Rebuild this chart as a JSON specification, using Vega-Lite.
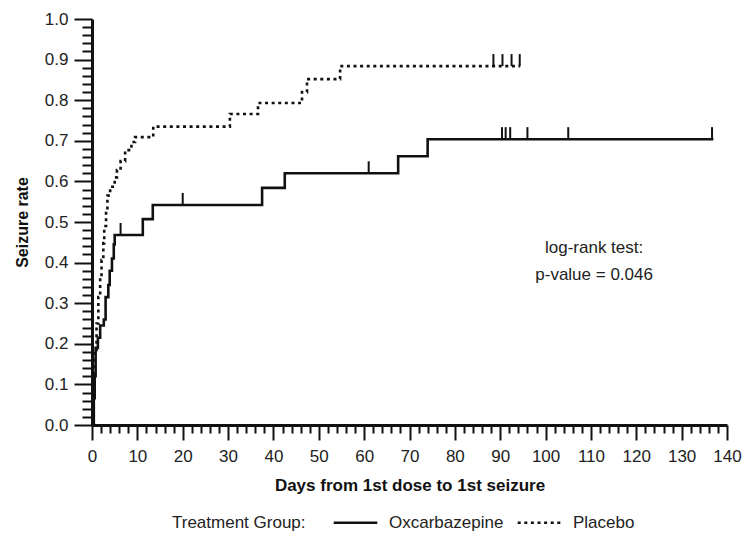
{
  "$schema": "https://vega.github.io/schema/vega-lite/v6.json",
  "width": 635,
  "height": 406,
  "autosize": {"type": "none"},
  "padding": {"left": 92, "top": 19, "right": 16, "bottom": 114},
  "background": "white",
  "config": {
    "view": {"stroke": null},
    "font": "Liberation Sans, sans-serif",
    "axis": {"grid": false, "domainColor": "#111", "domainWidth": 3, "tickColor": "#111", "tickWidth": 2, "labelColor": "#222", "titleColor": "#111"}
  },
  "datasets": {
    "curves": [
      {"group": "Oxcarbazepine", "day": 0, "rate": 0},
      {"group": "Oxcarbazepine", "day": 0.4, "rate": 0.066},
      {"group": "Oxcarbazepine", "day": 0.6, "rate": 0.12},
      {"group": "Oxcarbazepine", "day": 0.8, "rate": 0.19},
      {"group": "Oxcarbazepine", "day": 1.3, "rate": 0.215},
      {"group": "Oxcarbazepine", "day": 1.8, "rate": 0.245},
      {"group": "Oxcarbazepine", "day": 2.6, "rate": 0.26},
      {"group": "Oxcarbazepine", "day": 3.0, "rate": 0.315},
      {"group": "Oxcarbazepine", "day": 3.6, "rate": 0.345},
      {"group": "Oxcarbazepine", "day": 3.9, "rate": 0.38},
      {"group": "Oxcarbazepine", "day": 4.4, "rate": 0.41},
      {"group": "Oxcarbazepine", "day": 4.8, "rate": 0.445},
      {"group": "Oxcarbazepine", "day": 5.0, "rate": 0.468},
      {"group": "Oxcarbazepine", "day": 11.2, "rate": 0.507},
      {"group": "Oxcarbazepine", "day": 13.4, "rate": 0.542},
      {"group": "Oxcarbazepine", "day": 37.5, "rate": 0.584},
      {"group": "Oxcarbazepine", "day": 42.5, "rate": 0.62},
      {"group": "Oxcarbazepine", "day": 67.5, "rate": 0.662},
      {"group": "Oxcarbazepine", "day": 74, "rate": 0.704},
      {"group": "Oxcarbazepine", "day": 137, "rate": 0.704},
      {"group": "Placebo", "day": 0, "rate": 0},
      {"group": "Placebo", "day": 0.3, "rate": 0.1},
      {"group": "Placebo", "day": 0.6, "rate": 0.185},
      {"group": "Placebo", "day": 1.0, "rate": 0.25},
      {"group": "Placebo", "day": 1.4, "rate": 0.315},
      {"group": "Placebo", "day": 1.8, "rate": 0.365},
      {"group": "Placebo", "day": 2.1, "rate": 0.406},
      {"group": "Placebo", "day": 2.5, "rate": 0.448},
      {"group": "Placebo", "day": 2.7, "rate": 0.49},
      {"group": "Placebo", "day": 3.1, "rate": 0.53},
      {"group": "Placebo", "day": 3.4, "rate": 0.565},
      {"group": "Placebo", "day": 4.0, "rate": 0.587},
      {"group": "Placebo", "day": 5.0, "rate": 0.61},
      {"group": "Placebo", "day": 5.5, "rate": 0.628},
      {"group": "Placebo", "day": 6.3, "rate": 0.65},
      {"group": "Placebo", "day": 7.3, "rate": 0.677},
      {"group": "Placebo", "day": 8.7, "rate": 0.697},
      {"group": "Placebo", "day": 9.5, "rate": 0.709},
      {"group": "Placebo", "day": 13.5, "rate": 0.735},
      {"group": "Placebo", "day": 30.4, "rate": 0.766},
      {"group": "Placebo", "day": 36.6, "rate": 0.793},
      {"group": "Placebo", "day": 46.3, "rate": 0.82},
      {"group": "Placebo", "day": 47.4, "rate": 0.852},
      {"group": "Placebo", "day": 54.7, "rate": 0.884},
      {"group": "Placebo", "day": 94.4, "rate": 0.884}
    ],
    "censored": [
      {"group": "Oxcarbazepine", "day": 6.3, "rate": 0.468},
      {"group": "Oxcarbazepine", "day": 20, "rate": 0.542},
      {"group": "Oxcarbazepine", "day": 61, "rate": 0.62},
      {"group": "Oxcarbazepine", "day": 90.4, "rate": 0.704},
      {"group": "Oxcarbazepine", "day": 91.2, "rate": 0.704},
      {"group": "Oxcarbazepine", "day": 92.2, "rate": 0.704},
      {"group": "Oxcarbazepine", "day": 96, "rate": 0.704},
      {"group": "Oxcarbazepine", "day": 105, "rate": 0.704},
      {"group": "Oxcarbazepine", "day": 136.7, "rate": 0.704},
      {"group": "Placebo", "day": 88.5, "rate": 0.884},
      {"group": "Placebo", "day": 90.5, "rate": 0.884},
      {"group": "Placebo", "day": 92.5, "rate": 0.884},
      {"group": "Placebo", "day": 94.3, "rate": 0.884}
    ],
    "note": [
      {"day": 110.7, "rate": 0.436}
    ]
  },
  "encoding": {
    "x": {
      "field": "day", "type": "quantitative",
      "scale": {"domain": [0, 140], "nice": false, "zero": true},
      "axis": {
        "title": "Days from 1st dose to 1st seizure",
        "titleFontSize": 17, "titleFontWeight": "bold", "titlePadding": 13,
        "values": [0,2,4,6,8,10,12,14,16,18,20,22,24,26,28,30,32,34,36,38,40,42,44,46,48,50,52,54,56,58,60,62,64,66,68,70,72,74,76,78,80,82,84,86,88,90,92,94,96,98,100,102,104,106,108,110,112,114,116,118,120,122,124,126,128,130,132,134,136,138,140],
        "labelExpr": "datum.value % 10 == 0 ? datum.value : ''",
        "labelOverlap": false, "labelBound": false, "labelFlush": false,
        "labelFontSize": 17, "labelPadding": 8,
        "tickSize": {"condition": {"test": "datum.value % 10 == 0", "value": 15}, "value": 8}
      }
    },
    "y": {
      "field": "rate", "type": "quantitative",
      "scale": {"domain": [0, 1], "nice": false},
      "axis": {
        "title": "Seizure rate",
        "titleFontSize": 16, "titleFontWeight": "bold", "titlePadding": 14,
        "values": [0,0.02,0.04,0.06,0.08,0.1,0.12,0.14,0.16,0.18,0.2,0.22,0.24,0.26,0.28,0.3,0.32,0.34,0.36,0.38,0.4,0.42,0.44,0.46,0.48,0.5,0.52,0.54,0.56,0.58,0.6,0.62,0.64,0.66,0.68,0.7,0.72,0.74,0.76,0.78,0.8,0.82,0.84,0.86,0.88,0.9,0.92,0.94,0.96,0.98,1.0],
        "labelExpr": "abs(datum.value*10 - round(datum.value*10)) < 0.001 ? format(datum.value, '.1f') : ''",
        "labelOverlap": false, "labelBound": false, "labelFlush": false,
        "labelFontSize": 17, "labelPadding": 6,
        "tickSize": {"condition": {"test": "abs(datum.value*10 - round(datum.value*10)) < 0.001", "value": 18}, "value": 10}
      }
    }
  },
  "layer": [
    {
      "data": {"name": "curves"},
      "mark": {"type": "line", "interpolate": "step-after", "color": "#111", "strokeWidth": 2.6},
      "encoding": {
        "detail": {"field": "group"},
        "strokeDash": {
          "field": "group", "type": "nominal",
          "scale": {"domain": ["Oxcarbazepine", "Placebo"], "range": [[1, 0], [3, 3.6]]},
          "legend": {
            "title": "Treatment Group:", "titleOrient": "left", "titleAnchor": "middle", "titleFontWeight": "normal", "titleFontSize": 17, "titleColor": "#222", "titlePadding": 26, "titleBaseline": "top",
            "orient": "none", "legendX": 80, "legendY": 480, "direction": "horizontal",
            "labelFontSize": 17, "labelColor": "#222", "symbolType": "stroke", "symbolSize": 1900, "symbolStrokeWidth": 2.6, "symbolStrokeColor": "#111", "columnPadding": 8, "labelOffset": 10
          }
        }
      }
    },
    {
      "data": {"name": "censored"},
      "mark": {"type": "tick", "orient": "vertical", "color": "#111", "opacity": 1, "size": 12, "thickness": 2, "yOffset": -6}
    },
    {
      "data": {"name": "note"},
      "mark": {"type": "text", "fontSize": 17, "color": "#222", "align": "center", "baseline": "middle", "lineHeight": 27},
      "encoding": {
        "text": {"value": ["log-rank test:", "p-value = 0.046"]}
      }
    }
  ]
}
